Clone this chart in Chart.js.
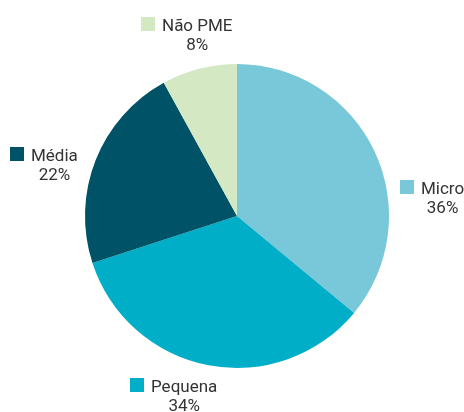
<!DOCTYPE html>
<html>
<head>
<meta charset="utf-8">
<script src="https://cdn.jsdelivr.net/npm/chart.js@4.4.0/dist/chart.umd.min.js"></script>
<style>
  html, body { margin: 0; padding: 0; background: #fff; }
  #wrap { width: 464px; height: 412px; }
</style>
</head>
<body>
<div id="wrap"><canvas id="myChart" width="464" height="412"></canvas></div>
<script>
const labels = ['Micro', 'Pequena', 'Média', 'Não PME'];
const values = [36, 34, 22, 8];
const colors = ['#78C8DA', '#00AEC7', '#005366', '#D5E8C4'];

// where each outside label sits: [square left x, name baseline y]
const labelAnchors = [[400, 194], [130, 392], [10, 161], [141, 31]];

const outsideLabels = {
    id: 'outsideLabels',
    afterDraw(chart) {
        const c = chart.ctx;
        c.save();
        c.font = '17px Roboto, "Open Sans", sans-serif';
        c.textBaseline = 'alphabetic';
        labels.forEach((name, i) => {
            const [x, y] = labelAnchors[i];
            c.fillStyle = colors[i];
            c.fillRect(x, y - 14, 14, 14);
            c.fillStyle = '#333333';
            c.textAlign = 'left';
            const tx = x + 21;
            c.fillText(name, tx, y);
            const w = c.measureText(name).width;
            c.textAlign = 'center';
            c.fillText(values[i] + '%', tx + w / 2, y + 19);
        });
        c.restore();
    }
};

const ctx = document.getElementById('myChart').getContext('2d');
const myChart = new Chart(ctx, {
    type: 'pie',
    data: {
        labels: labels,
        datasets: [{
            data: values,
            backgroundColor: colors,
            borderWidth: 0
        }]
    },
    options: {
        responsive: false,
        animation: false,
        layout: {
            padding: { top: 64, bottom: 44, left: 85, right: 75 }
        },
        plugins: {
            legend: { display: false },
            tooltip: { enabled: false }
        }
    },
    plugins: [outsideLabels]
});
</script>
</body>
</html>
